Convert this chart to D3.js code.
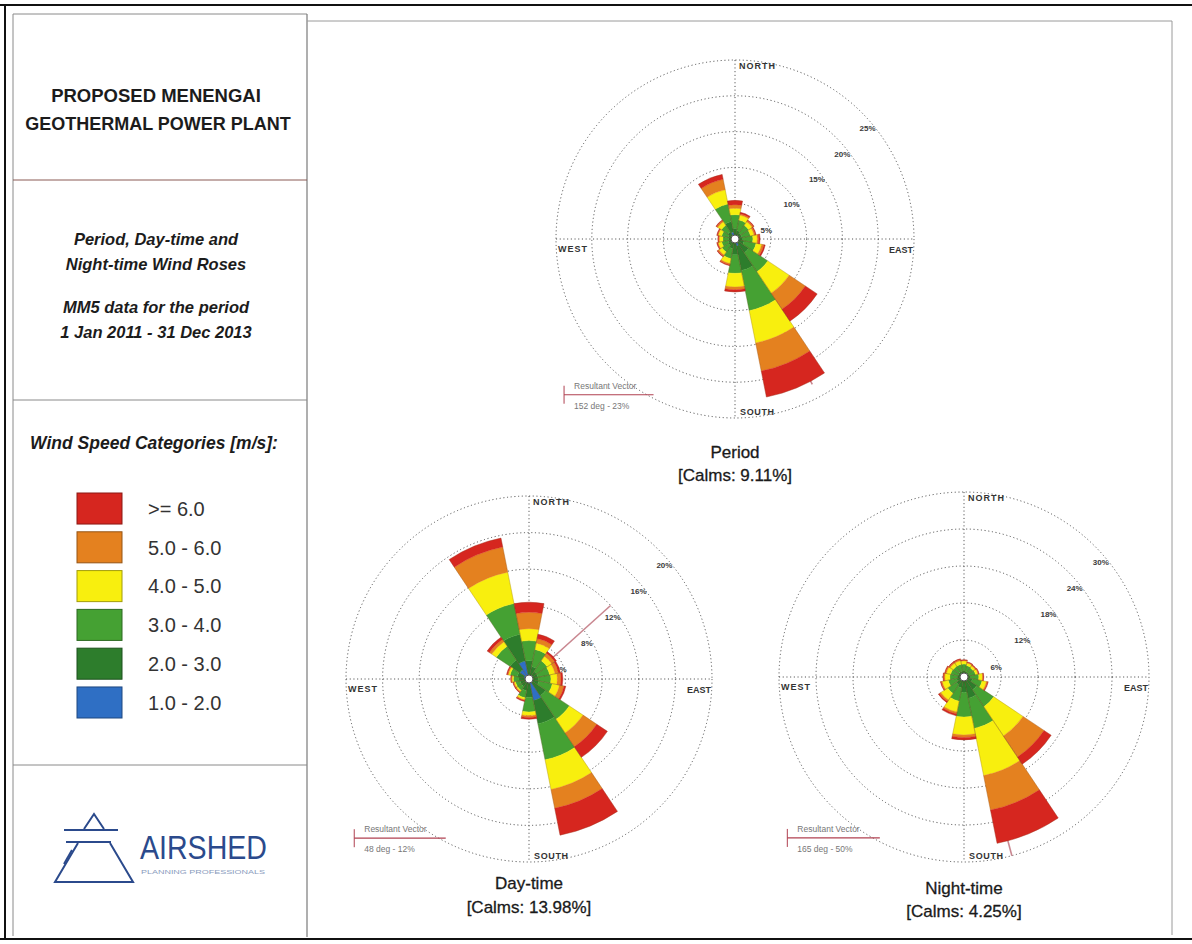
<!DOCTYPE html>
<html>
<head>
<meta charset="utf-8">
<script src="https://cdn.jsdelivr.net/npm/d3@7"></script>
<style>
  html, body { margin: 0; padding: 0; background: #fff; }
  svg { display: block; }
  text { font-family: "Liberation Sans", Arial, Helvetica, sans-serif; }
</style>
</head>
<body>
<svg id="chart" width="1192" height="944"></svg>
<script>
// ---- Wind directions and speed categories ----
const directions = ["N","NNE","NE","ENE","E","ESE","SE","SSE","S","SSW","SW","WSW","W","WNW","NW","NNW"];
const speedBands = ["1.0 - 2.0","2.0 - 3.0","3.0 - 4.0","4.0 - 5.0","5.0 - 6.0",">= 6.0"];
const bandColors = ["#2f6fc4","#2d7d2c","#45a133","#f8ef0e","#e4811f","#d6261f"];

// ---- Period: frequency [%] per direction (N ... NNW) for each speed band ----
const period_1to2 = [0.3,0.3,0.2,0.2,0.2,0.2,0.3,1.0,0.4,0.3,0.3,0.3,0.3,0.3,0.3,1.0];
const period_2to3 = [1.2,0.9,0.8,0.8,0.9,1.1,2.0,3.5,1.8,1.1,0.8,0.7,0.6,0.7,0.9,1.5];
const period_3to4 = [1.9,1.5,1.3,1.2,1.4,1.7,3.2,5.7,2.6,1.4,1.1,0.9,0.8,0.9,1.1,2.5];
const period_4to5 = [0.9,0.7,0.6,0.5,0.6,0.8,3.6,4.6,1.9,0.7,0.5,0.5,0.5,0.5,0.6,2.0];
const period_5to6 = [0.5,0.2,0.2,0.2,0.2,0.3,2.7,4.0,0.4,0.2,0.2,0.1,0.1,0.1,0.2,1.5];
const period_6up  = [0.6,0.2,0.1,0.1,0.2,0.2,2.0,3.7,0.3,0.1,0.1,0.1,0.1,0.1,0.1,0.7];

// ---- Day-time ----
const day_1to2 = [0.5,0.3,0.2,0.2,0.2,0.2,0.4,2.4,0.5,0.4,0.4,0.4,0.5,0.6,1.2,2.0];
const day_2to3 = [1.5,1.1,0.8,0.8,0.8,0.9,1.8,2.6,1.5,0.9,0.6,0.6,0.6,0.7,1.3,3.0];
const day_3to4 = [2.2,1.9,1.4,1.3,1.4,1.5,3.1,4.0,1.6,0.8,0.5,0.5,0.6,0.8,1.8,3.4];
const day_4to5 = [1.3,0.7,0.6,0.6,0.7,0.8,1.8,3.3,0.4,0.2,0.15,0.15,0.15,0.2,0.6,3.5];
const day_5to6 = [1.8,0.5,0.4,0.4,0.4,0.5,1.8,2.1,0.2,0.1,0.1,0.1,0.1,0.1,0.3,2.8];
const day_6up  = [1.1,0.5,0.2,0.2,0.2,0.2,1.4,3.0,0.2,0.1,0.05,0.05,0.05,0.1,0.3,1.0];

// ---- Night-time ----
const night_1to2 = [0.2,0.2,0.2,0.2,0.2,0.2,0.3,0.3,0.3,0.3,0.3,0.2,0.2,0.2,0.2,0.2];
const night_2to3 = [0.8,0.7,0.7,0.7,0.9,1.2,2.2,3.2,2.2,1.5,1.2,1.0,0.9,0.8,0.8,0.8];
const night_3to4 = [1.1,1.0,0.9,1.0,1.3,1.6,3.3,5.0,4.0,2.2,1.7,1.4,1.2,1.2,1.1,1.1];
const night_4to5 = [0.5,0.4,0.4,0.4,0.6,0.7,5.7,7.8,2.9,1.8,1.3,1.0,0.8,0.7,0.6,0.6];
const night_5to6 = [0.1,0.1,0.1,0.1,0.1,0.2,4.1,5.7,0.4,0.3,0.3,0.2,0.2,0.2,0.2,0.2];
const night_6up  = [0.1,0.1,0.1,0.1,0.1,0.1,1.4,5.5,0.4,0.3,0.2,0.1,0.1,0.1,0.1,0.1];

// ---- Ring ticks [%], titles, calms and resultant vectors ----
const periodRingTicks = [5,10,15,20,25];
const dayRingTicks    = [4,8,12,16,20];
const nightRingTicks  = [6,12,18,24,30];
const roseTitles   = ["Period","Day-time","Night-time"];
const roseCalms    = ["9.11","13.98","4.25"];
const resultantDeg = [152,48,165];
const resultantPct = [23,12,50];

const legendLabels = [">= 6.0","5.0 - 6.0","4.0 - 5.0","3.0 - 4.0","2.0 - 3.0","1.0 - 2.0"];

// ---- Page layout ----
const svg = d3.select("#chart");
const W = 1192, H = 944;

// frames
const frame = svg.append("g").attr("fill","none");
frame.append("line").attr("x1",0).attr("x2",W).attr("y1",5).attr("y2",5).attr("stroke","#111").attr("stroke-width",2);
frame.append("line").attr("x1",0).attr("x2",W).attr("y1",939).attr("y2",939).attr("stroke","#111").attr("stroke-width",2);
frame.append("line").attr("x1",5).attr("x2",5).attr("y1",5).attr("y2",939).attr("stroke","#111").attr("stroke-width",2);
frame.append("line").attr("x1",13).attr("x2",13).attr("y1",14).attr("y2",936).attr("stroke","#8a8a8a").attr("stroke-width",1);
frame.append("line").attr("x1",13).attr("x2",307).attr("y1",14).attr("y2",14).attr("stroke","#8a8a8a").attr("stroke-width",1);
frame.append("line").attr("x1",307).attr("x2",307).attr("y1",14).attr("y2",937).attr("stroke","#7a7a7a").attr("stroke-width",1.2);
frame.append("line").attr("x1",307).attr("x2",1172).attr("y1",21).attr("y2",21).attr("stroke","#9a9a9a").attr("stroke-width",1);
frame.append("line").attr("x1",1172).attr("x2",1172).attr("y1",21).attr("y2",935).attr("stroke","#9a9a9a").attr("stroke-width",1);
frame.append("line").attr("x1",13).attr("x2",307).attr("y1",180).attr("y2",180).attr("stroke","#8a5a55").attr("stroke-width",1);
frame.append("line").attr("x1",13).attr("x2",307).attr("y1",400).attr("y2",400).attr("stroke","#8a8a8a").attr("stroke-width",1);
frame.append("line").attr("x1",13).attr("x2",307).attr("y1",765).attr("y2",765).attr("stroke","#8a8a8a").attr("stroke-width",1);

// left panel text
const panel = svg.append("g").attr("fill","#1c1c1c").attr("text-anchor","middle");
panel.append("text").attr("x",156).attr("y",102).attr("font-size",18.5).attr("font-weight","bold").text("PROPOSED MENENGAI");
panel.append("text").attr("x",158).attr("y",130).attr("font-size",18).attr("font-weight","bold").text("GEOTHERMAL POWER PLANT");
const sub = [["Period, Day-time and",245],["Night-time Wind Roses",270],["MM5 data for the period",313],["1 Jan 2011 - 31 Dec 2013",338]];
sub.forEach(([t,y]) => panel.append("text").attr("x",156).attr("y",y).attr("font-size",16.5)
  .attr("font-weight","bold").attr("font-style","italic").text(t));
panel.append("text").attr("x",154).attr("y",449).attr("font-size",17.5)
  .attr("font-weight","bold").attr("font-style","italic").text("Wind Speed Categories [m/s]:");

// speed legend (fastest on top)
const legend = svg.append("g");
const legendColors = bandColors.slice().reverse();
const ly = d3.scaleBand().domain(legendLabels).range([493, 718]).paddingInner(0.2);
legend.selectAll("rect").data(legendLabels).join("rect")
  .attr("x",77).attr("y",d => ly(d)).attr("width",45).attr("height",ly.bandwidth())
  .attr("fill",(d,i) => legendColors[i]).attr("stroke",(d,i) => d3.color(legendColors[i]).darker(1.2)).attr("stroke-width",1);
legend.selectAll("text").data(legendLabels).join("text")
  .attr("x",148).attr("y",d => ly(d) + ly.bandwidth()/2).attr("dy","0.36em")
  .attr("font-size",20).attr("fill","#333").text(d => d);

// company logo
const logo = svg.append("g").attr("fill","none").attr("stroke","#2b4a8c").attr("stroke-width",2).attr("stroke-linejoin","miter");
logo.append("path").attr("d","M84,829 L94,814 L104,829");
logo.append("path").attr("d","M64,830 L118,830");
logo.append("path").attr("d","M66,842 L111,842");
logo.append("path").attr("d","M78,843 L55,882 L133,882 L110,843");
logo.append("path").attr("d","M64,864 L72,850");
svg.append("text").attr("x",140).attr("y",859).attr("font-size",33).attr("fill","#2b4a8c")
  .attr("textLength",127).attr("lengthAdjust","spacingAndGlyphs").text("AIRSHED");
svg.append("text").attr("x",141).attr("y",874).attr("font-size",5.5).attr("fill","#8a9bbd")
  .attr("textLength",124).attr("lengthAdjust","spacingAndGlyphs").text("PLANNING PROFESSIONALS");

// ---- Wind roses ----
const roseLayouts = [
  { cx: 735, cy: 239, R: 179, titleY: 458, calmsY: 481 },
  { cx: 529, cy: 679, R: 183, titleY: 889, calmsY: 913 },
  { cx: 964, cy: 677, R: 185, titleY: 894, calmsY: 917 }
];
const roseBands = [
  [period_1to2, period_2to3, period_3to4, period_4to5, period_5to6, period_6up],
  [day_1to2, day_2to3, day_3to4, day_4to5, day_5to6, day_6up],
  [night_1to2, night_2to3, night_3to4, night_4to5, night_5to6, night_6up]
];
const roseTicks = [periodRingTicks, dayRingTicks, nightRingTicks];

function drawRose(idx) {
  const L = roseLayouts[idx], bands = roseBands[idx], ticks = roseTicks[idx];
  const g = svg.append("g").attr("transform", `translate(${L.cx},${L.cy})`);

  const table = directions.map((d, i) => {
    const row = { dir: d, i };
    speedBands.forEach((b, k) => row[b] = bands[k][i]);
    return row;
  });
  const series = d3.stack().keys(speedBands)(table);
  const r = d3.scaleLinear().domain([0, ticks[ticks.length - 1]]).range([0, L.R]);
  const a = d3.scaleLinear().domain([0, directions.length]).range([0, 2 * Math.PI]);

  // dotted grid
  const grid = g.append("g").attr("fill","none").attr("stroke","#505050").attr("stroke-width",1)
    .attr("stroke-dasharray","1.1,2.6");
  grid.selectAll("circle").data(ticks).join("circle").attr("r", d => r(d));
  grid.append("line").attr("x1",0).attr("x2",0).attr("y1",-L.R).attr("y2",L.R);
  grid.append("line").attr("y1",0).attr("y2",0).attr("x1",-L.R).attr("x2",L.R);

  // ring labels along the north-east diagonal
  const s45 = Math.SQRT1_2;
  g.append("g").selectAll("text").data(ticks).join("text")
    .attr("x", d => r(d) * s45 + 6).attr("y", d => -r(d) * s45 + 16).attr("dy","0.35em")
    .attr("text-anchor","middle").attr("font-size",8).attr("font-weight","bold").attr("fill","#3a3a3a")
    .text(d => d + "%");

  // compass labels
  const lab = g.append("g").attr("font-size",9).attr("font-weight","bold").attr("fill","#333");
  lab.append("text").attr("x",4).attr("y",-L.R + 6).attr("dy","0.35em").attr("textLength",36).text("NORTH");
  lab.append("text").attr("x",5).attr("y",L.R - 6).attr("dy","0.35em").attr("textLength",34).text("SOUTH");
  lab.append("text").attr("x",-L.R + 2).attr("y",10).attr("dy","0.35em").attr("textLength",29).text("WEST");
  lab.append("text").attr("x",L.R - 1).attr("y",11).attr("dy","0.35em").attr("text-anchor","end").text("EAST");

  // resultant vector, clipped to the outer ring
  const th = resultantDeg[idx] * Math.PI / 180;
  const len = r(Math.min(resultantPct[idx], ticks[ticks.length - 1]));
  g.append("line").attr("x1",0).attr("y1",0)
    .attr("x2", len * Math.sin(th)).attr("y2", -len * Math.cos(th))
    .attr("stroke","#c98790").attr("stroke-width",1.6);

  // petals
  const arc = d3.arc();
  const half = 0.5;
  series.forEach((s, k) => {
    g.append("g").selectAll("path").data(s).join("path")
      .attr("d", d => arc({
        innerRadius: r(d[0]), outerRadius: r(d[1]),
        startAngle: a(d.data.i - half), endAngle: a(d.data.i + half)
      }))
      .attr("fill", bandColors[k])
      .attr("stroke", bandColors[k]).attr("stroke-width",0.3);
  });
  // petal outline
  const top = series[series.length - 1];
  g.append("g").selectAll("path").data(top).join("path")
    .attr("d", d => arc({ innerRadius: 0, outerRadius: r(d[1]),
      startAngle: a(d.data.i - half), endAngle: a(d.data.i + half) }))
    .attr("fill","none").attr("stroke","#6b3a1c").attr("stroke-width",0.5).attr("stroke-opacity",0.45);

  // calm circle
  g.append("circle").attr("r",4).attr("fill","#fff").attr("stroke","#555").attr("stroke-width",1);

  // resultant vector key
  const kx = -0.955 * L.R, ky = 0.87 * L.R;
  const key = g.append("g");
  key.append("line").attr("x1",kx).attr("x2",kx).attr("y1",ky - 9).attr("y2",ky + 9).attr("stroke","#b04050").attr("stroke-width",1);
  key.append("line").attr("x1",kx).attr("x2",kx + 0.5 * L.R).attr("y1",ky).attr("y2",ky).attr("stroke","#b04050").attr("stroke-width",1.2);
  key.append("text").attr("x",kx + 10).attr("y",ky - 9).attr("dy","0.35em").attr("font-size",8.5).attr("fill","#777")
    .text("Resultant Vector");
  key.append("text").attr("x",kx + 10).attr("y",ky + 11).attr("dy","0.35em").attr("font-size",8.5).attr("fill","#777")
    .text(`${resultantDeg[idx]} deg - ${resultantPct[idx]}%`);

  // titles
  svg.append("text").attr("x",L.cx).attr("y",L.titleY).attr("text-anchor","middle")
    .attr("font-size",17).attr("fill","#1a1a1a").attr("stroke","#1a1a1a").attr("stroke-width",0.3)
    .text(roseTitles[idx]);
  svg.append("text").attr("x",L.cx).attr("y",L.calmsY).attr("text-anchor","middle")
    .attr("font-size",17).attr("fill","#1a1a1a").attr("stroke","#1a1a1a").attr("stroke-width",0.3)
    .text(`[Calms: ${roseCalms[idx]}%]`);
}
[0, 1, 2].forEach(drawRose);
</script>
</body>
</html>
